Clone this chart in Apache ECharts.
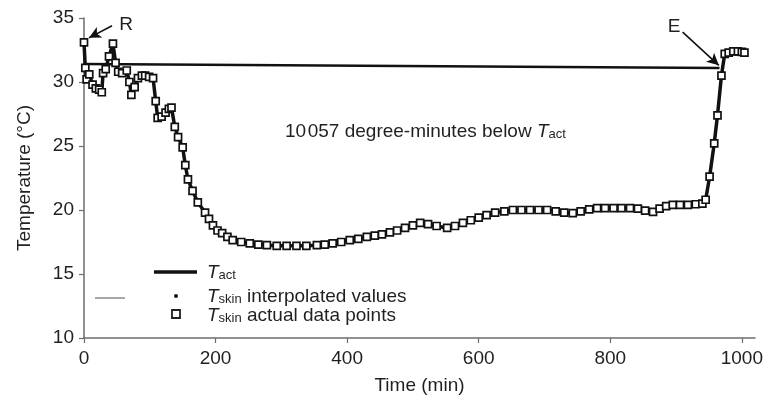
<!DOCTYPE html>
<html>
<head>
<meta charset="utf-8">
<script src="https://cdn.jsdelivr.net/npm/echarts@6/dist/echarts.min.js"></script>
<style>
html,body{margin:0;padding:0;background:#fff;}
#c{width:769px;height:410px;}
</style>
</head>
<body>
<div id="c"></div>
<script>
// ---- data ----
const skinTime = [0,2,4,8,13,18,23,27,29,33,
  38,44,48,52,58,65,69,72,77,82,
  88,93,99,105,109,112,118,124,129,133,
  138,143,150,154,158,165,173,184,190,196,
  203,210,218,226,239,252,265,278,293,308,
  323,338,354,366,378,391,404,417,430,442,
  453,465,476,488,500,511,523,536,552,564,
  576,588,600,612,625,639,652,665,678,691,
  704,717,730,743,755,768,780,792,805,817,
  830,842,853,865,875,885,895,906,918,930,
  940,945,951,958,963,969,974,980,987,994,1000,1004];
const skinTemp = [33.1,31.1,30.2,30.6,29.8,29.5,29.4,29.2,30.7,31.0,
  32.0,33.0,31.5,30.8,30.7,30.9,30.0,29.0,29.6,30.3,
  30.5,30.5,30.4,30.3,28.5,27.2,27.3,27.6,27.9,28.0,
  26.5,25.7,24.9,23.5,22.4,21.5,20.6,19.8,19.3,18.8,
  18.4,18.2,17.9,17.65,17.5,17.4,17.3,17.25,17.2,17.2,
  17.2,17.2,17.25,17.3,17.4,17.5,17.65,17.75,17.9,18.0,
  18.1,18.25,18.4,18.6,18.8,19.0,18.9,18.75,18.6,18.75,
  19.0,19.2,19.4,19.6,19.8,19.9,20.0,20.0,20.0,20.0,
  20.0,19.9,19.8,19.75,19.9,20.05,20.15,20.15,20.15,20.15,
  20.15,20.1,19.95,19.85,20.1,20.3,20.4,20.4,20.4,20.45,
  20.5,20.8,22.6,25.2,27.4,30.5,32.2,32.3,32.4,32.4,32.35,32.3];
const actTime = [0, 966];
const actTemp = [31.4, 31.1];
const xTicks = [0, 200, 400, 600, 800, 1000];
const arrowR = [[42.6, 34.4], [7.6, 33.45]];
const arrowE = [[910, 33.9], [965, 31.3]];

const skinData = skinTime.map((t, i) => [t, skinTemp[i]]);
const actData = actTime.map((t, i) => [t, actTemp[i]]);

const FONT = 'Liberation Sans, Arial, Helvetica, sans-serif';
const TXT = '#231f20';
const AX = '#6d6d6d';
const richSub = {
  i: { fontStyle: 'italic', fontSize: 19, fontFamily: FONT, color: TXT, fill: TXT, lineHeight: 20, verticalAlign: 'bottom' },
  s: { fontSize: 13, fontFamily: FONT, color: TXT, fill: TXT, lineHeight: 9, verticalAlign: 'bottom' },
  n: { fontSize: 19, fontFamily: FONT, color: TXT, fill: TXT, lineHeight: 20, verticalAlign: 'bottom' }
};

const chart = echarts.init(document.getElementById('c'), null, { renderer: 'canvas' });
chart.setOption({
  animation: false,
  backgroundColor: '#fff',
  grid: { left: 84, right: 14, top: 18, bottom: 72, containLabel: false },
  xAxis: {
    type: 'value', min: 0, max: 1020, interval: 200,
    name: 'Time (min)', nameLocation: 'middle', nameGap: 38,
    nameTextStyle: { fontFamily: FONT, fontSize: 19, color: TXT },
    axisLine: { lineStyle: { color: AX, width: 1.5 } },
    axisTick: { show: true, length: 5, lineStyle: { color: AX, width: 1.2 }, customValues: xTicks },
    axisLabel: { fontFamily: FONT, fontSize: 19, color: TXT, margin: 11, customValues: xTicks, formatter: v => String(v) },
    splitLine: { show: false }
  },
  yAxis: {
    type: 'value', min: 10, max: 35, interval: 5,
    name: 'Temperature (\u00B0C)', nameLocation: 'middle', nameGap: 50,
    nameTextStyle: { fontFamily: FONT, fontSize: 19, color: TXT },
    axisLine: { show: true, lineStyle: { color: AX, width: 1.5 } },
    axisTick: { show: true, length: 5, lineStyle: { color: AX, width: 1.2 } },
    axisLabel: { fontFamily: FONT, fontSize: 19, color: TXT, margin: 10 },
    splitLine: { show: false }
  },
  series: [
    {
      name: 'T_act', type: 'line', data: actData, showSymbol: false, symbol: 'none',
      lineStyle: { color: '#111', width: 2.5 }, z: 3,
      markLine: {
        silent: true, symbol: ['none', 'arrow'], symbolSize: [9, 12],
        label: { show: false },
        lineStyle: { color: '#111', width: 1.6, type: 'solid' },
        data: [
          [{ coord: arrowR[0] }, { coord: arrowR[1] }],
          [{ coord: arrowE[0] }, { coord: arrowE[1] }]
        ]
      }
    },
    {
      name: 'T_skin interpolated', type: 'line', data: skinData, showSymbol: false, symbol: 'none',
      lineStyle: { color: '#111', width: 3.5 }, z: 4
    },
    {
      name: 'T_skin actual', type: 'scatter', data: skinData, symbol: 'rect', symbolSize: 7,
      itemStyle: { color: '#fff', borderColor: '#111', borderWidth: 1.7, opacity: 1 }, z: 5
    }
  ],
  graphic: [
    { type: 'text', x: 126, y: 25, style: { text: 'R', font: '19px ' + FONT, fill: TXT, align: 'center', verticalAlign: 'middle', textAlign: 'center', textVerticalAlign: 'middle' } },
    { type: 'text', x: 674, y: 27, style: { text: 'E', font: '19px ' + FONT, fill: TXT, align: 'center', verticalAlign: 'middle', textAlign: 'center', textVerticalAlign: 'middle' } },
    { type: 'text', x: 285, y: 131, style: { text: '{n|10\u200A057 degree-minutes below }{i|T}{s|act}', rich: richSub, fill: TXT, align: 'left', verticalAlign: 'middle', textAlign: 'left', textVerticalAlign: 'middle' } },
    // legend
    { type: 'line', shape: { x1: 154, y1: 272, x2: 197, y2: 272 }, style: { stroke: '#111', lineWidth: 3.5 } },
    { type: 'line', shape: { x1: 95, y1: 298, x2: 125, y2: 298 }, style: { stroke: '#8a8a8a', lineWidth: 1.5 } },
    { type: 'circle', shape: { cx: 176, cy: 296, r: 2 }, style: { fill: '#111' } },
    { type: 'rect', shape: { x: 172, y: 310, width: 8, height: 8 }, style: { fill: '#fff', stroke: '#222', lineWidth: 1.8 } },
    { type: 'text', x: 207, y: 272, style: { text: '{i|T}{s|act}', rich: richSub, fill: TXT, align: 'left', verticalAlign: 'middle', textAlign: 'left', textVerticalAlign: 'middle' } },
    { type: 'text', x: 207, y: 296, style: { text: '{i|T}{s|skin}{n| interpolated values}', rich: richSub, fill: TXT, align: 'left', verticalAlign: 'middle', textAlign: 'left', textVerticalAlign: 'middle' } },
    { type: 'text', x: 207, y: 315, style: { text: '{i|T}{s|skin}{n| actual data points}', rich: richSub, fill: TXT, align: 'left', verticalAlign: 'middle', textAlign: 'left', textVerticalAlign: 'middle' } }
  ]
});
</script>
</body>
</html>
